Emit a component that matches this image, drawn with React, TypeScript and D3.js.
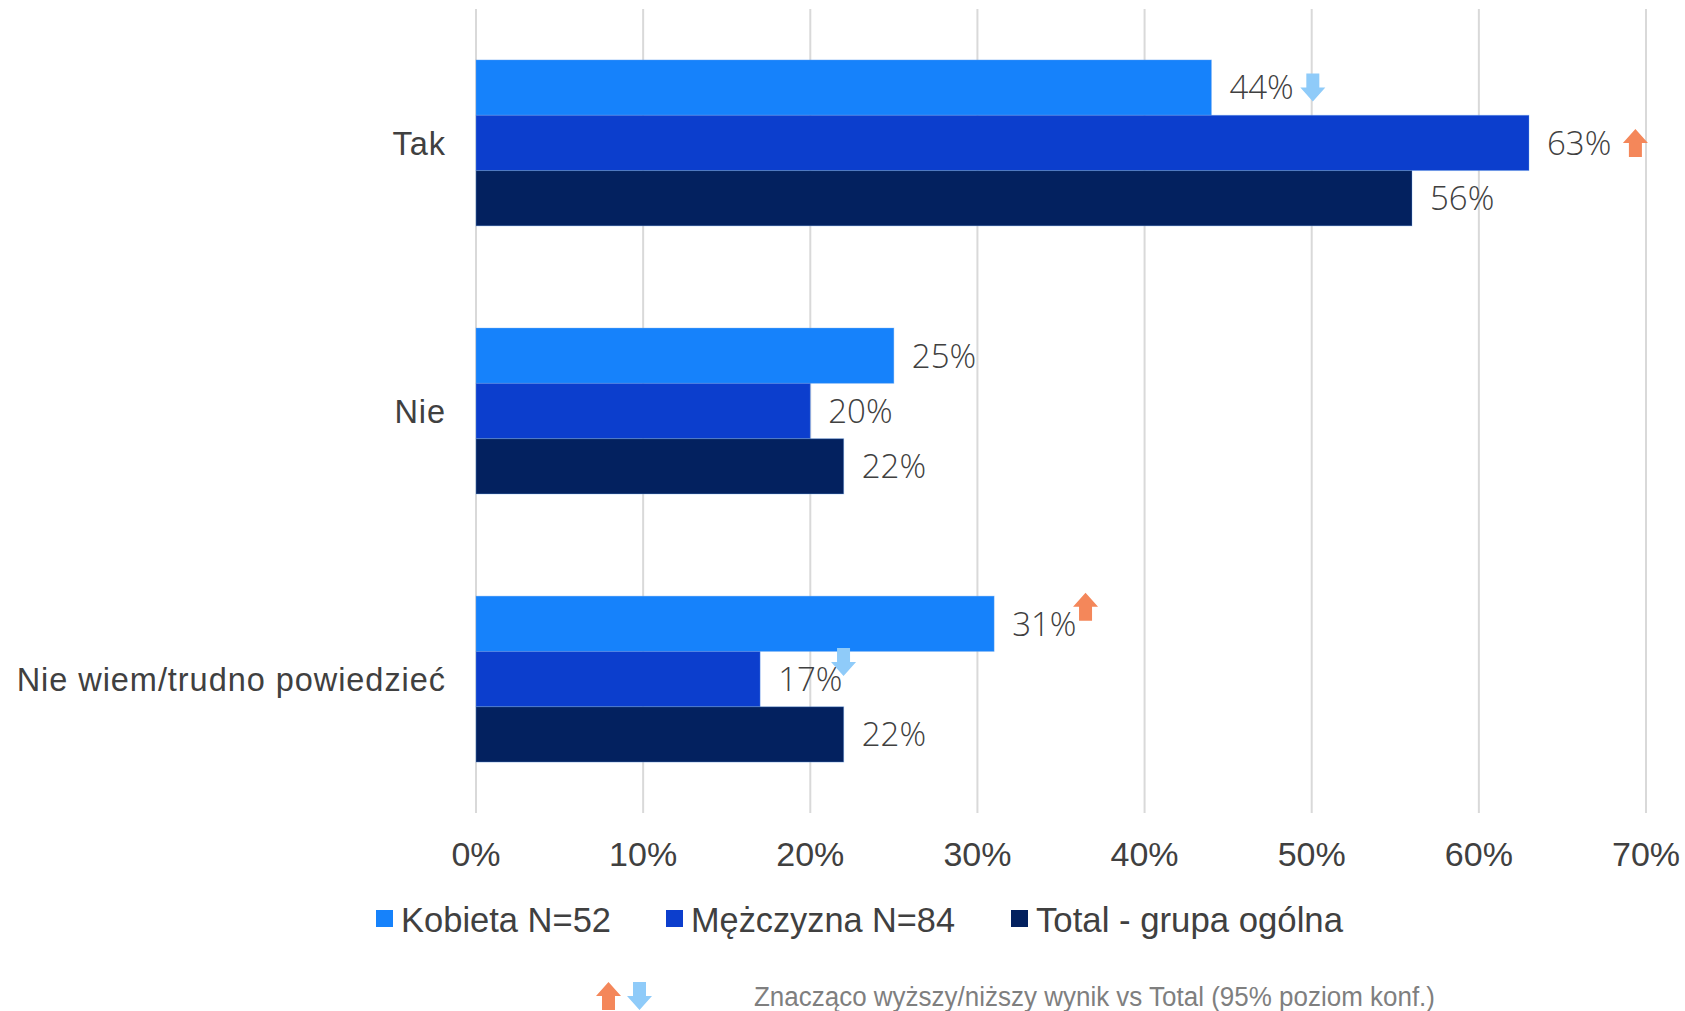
import React from "react";
import * as d3 from "d3";

const categories = ["Tak", "Nie", "Nie wiem/trudno powiedzieć"];
const seriesNames = ["Kobieta N=52", "Mężczyzna N=84", "Total - grupa ogólna"];
const kobieta = [0.44, 0.25, 0.31];
const mezczyzna = [0.63, 0.2, 0.17];
const total = [0.56, 0.22, 0.22];
// significance markers: [seriesIndex, categoryIndex, direction]
const sigMarks: [number, number, "up" | "down"][] = [
  [0, 0, "down"],
  [1, 0, "up"],
  [0, 2, "up"],
  [1, 2, "down"],
];
const xTicks = [0, 0.1, 0.2, 0.3, 0.4, 0.5, 0.6, 0.7];
const footnote = "Znacząco wyższy/niższy wynik vs Total (95% poziom konf.)";

const colors = ["#1682fb", "#0c3ecd", "#03215f"];
const UP = "#f4875a";
const DOWN = "#8fcbf9";
// arrow offset relative to label end / bar center, per marker
const markOffsets = [
  { dx: 7, dy: 0 },
  { dx: 12, dy: 0 },
  { dx: -3, dy: -17 },
  { dx: -11, dy: -17 },
];

function Arrow({ x, y, dir }: { x: number; y: number; dir: "up" | "down" }) {
  const w = 25, h = 28, sw = 13, hh = 14;
  const l = x, r = x + w, cx = x + w / 2, t = y - h / 2, b = y + h / 2;
  const sl = cx - sw / 2, sr = cx + sw / 2;
  const d =
    dir === "down"
      ? `M${sl},${t}L${sr},${t}L${sr},${b - hh}L${r},${b - hh}L${cx},${b}L${l},${b - hh}L${sl},${b - hh}Z`
      : `M${sl},${b}L${sr},${b}L${sr},${t + hh}L${r},${t + hh}L${cx},${t}L${l},${t + hh}L${sl},${t + hh}Z`;
  return <path d={d} fill={dir === "up" ? UP : DOWN} />;
}

export default function App() {
  const W = 1685, H = 1011;
  const series = [kobieta, mezczyzna, total];
  const x = d3.scaleLinear().domain([0, 0.7]).range([476, 1646]);
  const y = d3
    .scaleBand<string>()
    .domain(categories)
    .range([9, 813])
    .paddingInner(0.381)
    .paddingOuter(0.19);
  const ys = d3
    .scaleBand<number>()
    .domain([0, 1, 2])
    .range([0, y.bandwidth()]);
  const fmt = d3.format(".0%");
  const labelFont = "'Open Sans', sans-serif";
  const axisFont = "'Liberation Sans', Arial, sans-serif";

  const labelEnd = (si: number, ci: number) => {
    const v = series[si][ci];
    return x(v) + 18 + fmt(v).length * 21.3;
  };

  const legendX = [376, 666, 1011];
  const legendW = [210, 264, 307];

  return (
    <svg
      width={W}
      height={H}
      style={{ position: "absolute", left: 0, top: 0, background: "#fff" }}
    >
      {xTicks.map((t) => (
        <line
          key={t}
          x1={x(t)}
          x2={x(t)}
          y1={9}
          y2={813}
          stroke="#d9d9d9"
          strokeWidth={2}
        />
      ))}
      {categories.map((c, ci) =>
        series.map((s, si) => (
          <rect
            key={`${ci}-${si}`}
            x={x(0)}
            y={(y(c) as number) + (ys(si) as number)}
            width={x(s[ci]) - x(0)}
            height={ys.bandwidth()}
            fill={colors[si]}
            stroke="#6fa8f0"
            strokeOpacity={0.35}
            strokeWidth={1}
          />
        ))
      )}
      {categories.map((c, ci) =>
        series.map((s, si) => (
          <text
            key={`l${ci}-${si}`}
            x={x(s[ci]) + 18}
            y={(y(c) as number) + (ys(si) as number) + ys.bandwidth() / 2}
            dy="0.36em"
            fontFamily={labelFont}
            fontWeight={300}
            fontSize={33}
            fill="#404040"
          >
            {fmt(s[ci])}
          </text>
        ))
      )}
      {sigMarks.map(([si, ci, dir], i) => (
        <Arrow
          key={`a${i}`}
          x={labelEnd(si, ci) + markOffsets[i].dx}
          y={
            (y(categories[ci]) as number) +
            (ys(si) as number) +
            ys.bandwidth() / 2 +
            markOffsets[i].dy
          }
          dir={dir}
        />
      ))}
      {categories.map((c) => (
        <text
          key={c}
          x={446}
          y={(y(c) as number) + y.bandwidth() / 2}
          dy="0.36em"
          textAnchor="end"
          fontFamily={axisFont}
          fontSize={32.5}
          letterSpacing={0.95}
          fill="#404040"
        >
          {c}
        </text>
      ))}
      {xTicks.map((t) => (
        <text
          key={`t${t}`}
          x={x(t)}
          y={854}
          dy="0.36em"
          textAnchor="middle"
          fontFamily={axisFont}
          fontSize={34}
          fill="#404040"
        >
          {fmt(t)}
        </text>
      ))}
      {seriesNames.map((n, i) => (
        <g key={n}>
          <rect x={legendX[i]} y={910} width={17} height={17} fill={colors[i]} />
          <text
            x={legendX[i] + 25}
            y={919}
            dy="0.36em"
            fontFamily={axisFont}
            fontSize={35}
            fill="#404040"
            textLength={legendW[i]}
            lengthAdjust="spacingAndGlyphs"
          >
            {n}
          </text>
        </g>
      ))}
      <Arrow x={596} y={996} dir="up" />
      <Arrow x={627} y={996} dir="down" />
      <text
        x={754}
        y={996}
        dy="0.36em"
        fontFamily={axisFont}
        fontSize={27}
        fill="#7f7f7f"
        textLength={681}
        lengthAdjust="spacingAndGlyphs"
      >
        {footnote}
      </text>
    </svg>
  );
}
